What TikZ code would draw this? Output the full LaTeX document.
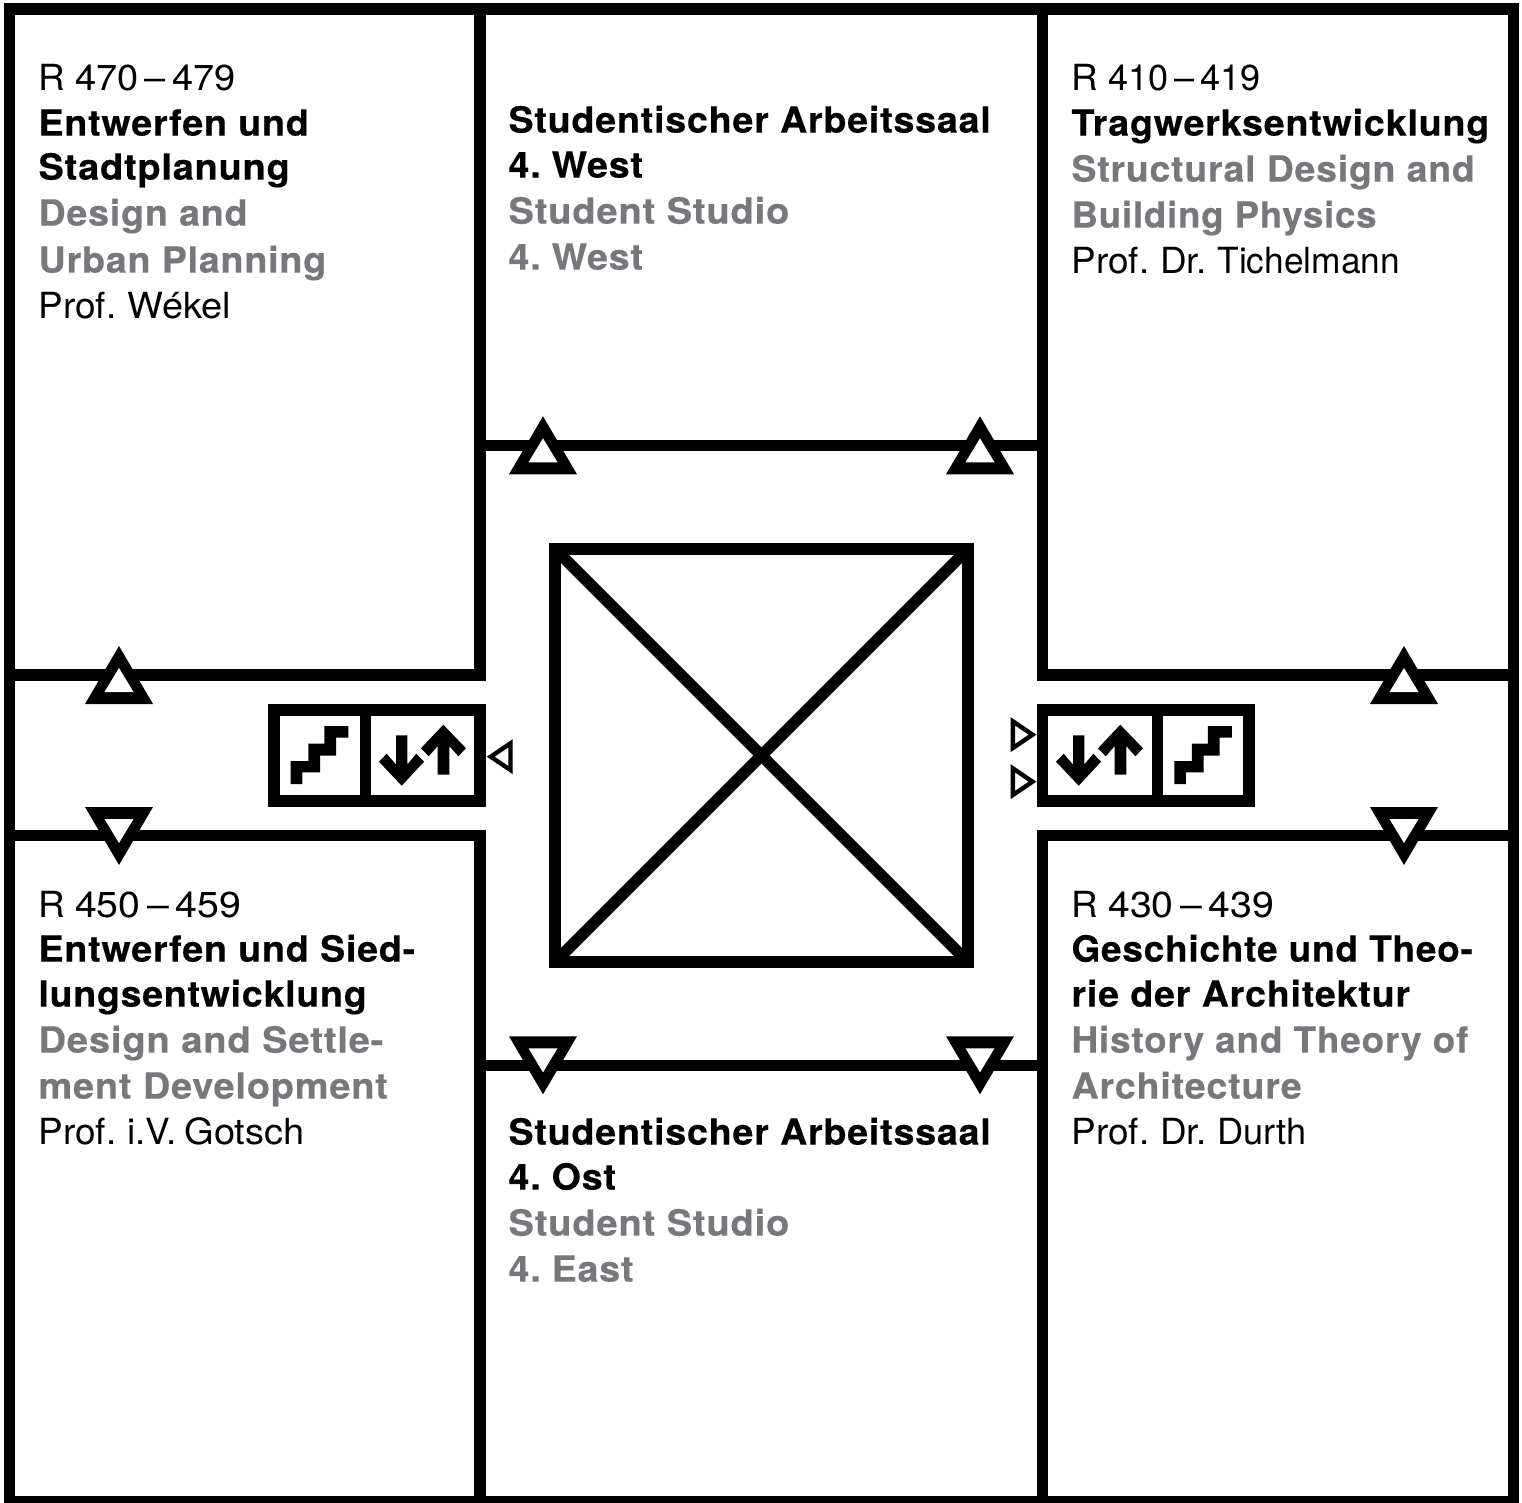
\documentclass[tikz,border=0pt]{standalone}
\usepackage{fontspec}
\setmainfont{TeX Gyre Heros}[WordSpace=0.72,FakeStretch=1.025,BoldFeatures={FakeStretch=1.045,LetterSpace=2.2,FakeBold=0.35,WordSpace=1.0}]
\definecolor{grayt}{HTML}{77787B}
\tikzset{
  wall/.style={line width=11.5pt,line cap=butt,line join=miter},
  small/.style={draw=black,fill=white,line width=4.4pt,line join=miter},
  lbl/.style={anchor=base west,inner sep=0pt,outer sep=0pt,font=\fontsize{36}{36}\selectfont},
  bld/.style={lbl,font=\fontsize{36}{36}\selectfont\bfseries},
  gry/.style={bld,text=grayt}
}
\newcommand{\sx}[2]{\scalebox{#1}[1]{#2}}
\newcommand{\rno}[2]{R\hspace{10pt}\sx{#1}{#2}}
\newcommand{\uptri}[2]{%
  \fill[black] (#1-34,#2+29) -- (#1,#2-29) -- (#1+34,#2+29) -- cycle;
  \fill[white] (#1-14.5,#2+17) -- (#1,#2-7) -- (#1+14.5,#2+17) -- cycle;}
\newcommand{\dntri}[2]{%
  \fill[black] (#1-34,#2-29) -- (#1,#2+29) -- (#1+34,#2-29) -- cycle;
  \fill[white] (#1-14.5,#2-17) -- (#1,#2+7) -- (#1+14.5,#2-17) -- cycle;}
\newcommand{\stairs}[1]{%
  \fill[black,shift={(#1,0)}] (290.7,784) -- (302.3,784) -- (302.3,772.3) -- (320,772.3) -- (320,755.7) -- (336,755.7) -- (336,737.7) -- (348.3,737.7) -- (348.3,726) -- (324.3,726) -- (324.3,743.7) -- (308.3,743.7) -- (308.3,761) -- (290.7,761) -- cycle;}
\newcommand{\arrows}[1]{%
  \fill[black,shift={(#1,0)}] (396,735.3) -- (407.3,735.3) -- (407.3,764.5) -- (416.3,753.7) -- (424,761.7) -- (401.7,785.7) -- (379,761.7) -- (386.7,753.7) -- (396,764.5) -- cycle;
  \fill[black,shift={(#1,0)}] (437.7,774.7) -- (449.3,774.7) -- (449.3,746) -- (458.3,756.3) -- (466,748.3) -- (443.3,724.7) -- (421,748.3) -- (428.7,756.3) -- (437.7,746) -- cycle;}
\begin{document}
\begin{tikzpicture}[x=1pt,y=-1pt]
\useasboundingbox (0,0) rectangle (1522,1502);
\fill[white] (0,0) rectangle (1522,1502);
% frame
\draw[wall] (9.7,9.2) rectangle (1513.3,1502);
% walls
\draw[wall] (480.2,9) -- (480.2,680);
\draw[wall] (10,674.8) -- (486,674.8);
\draw[wall] (1042.5,9) -- (1042.5,680);
\draw[wall] (1036.7,674.8) -- (1513,674.8);
\draw[wall] (10,835.7) -- (486,835.7);
\draw[wall] (480.2,830) -- (480.2,1502);
\draw[wall] (1036.7,835.7) -- (1513,835.7);
\draw[wall] (1042.5,830) -- (1042.5,1502);
\draw[wall] (480,445.5) -- (1042,445.5);
\draw[wall] (480,1065.5) -- (1042,1065.5);
% void
\draw[wall] (555,549) rectangle (968,962);
\draw[wall] (555,549) -- (968,962);
\draw[wall] (968,549) -- (555,962);
% core boxes
\draw[wall] (273.8,709.8) rectangle (480.2,800.8);
\draw[wall] (365.3,704) -- (365.3,806.5);
\draw[wall] (1042.5,709.8) rectangle (1249,800.8);
\draw[wall] (1157.3,704) -- (1157.3,806.5);
\stairs{0}\arrows{0}
\stairs{883.6}\arrows{677}
% doors
\uptri{543}{445.3}\uptri{980}{445.3}
\dntri{543}{1065.3}\dntri{980}{1065.3}
\uptri{119}{675}\dntri{119}{836}
\uptri{1404}{675}\dntri{1404}{836}
% small markers
\draw[small] (490.7,756.7) -- (510.5,743.3) -- (510.5,770) -- cycle;
\draw[small] (1032.5,734.7) -- (1012.8,721.3) -- (1012.8,748) -- cycle;
\draw[small] (1032.5,781.7) -- (1012.8,768.3) -- (1012.8,795) -- cycle;
% text
\begin{scope}[shift={(0.5,0.6)}]
\node[lbl] (a1) at (38,90) {\rno{1.03}{470\,–\,479}};
\node[bld] (a2) at (38,135) {Entwerfen und};
\node[bld] (a3) at (38,179) {\sx{1.008}{Stadtplanung}};
\node[gry] (a4) at (38,225) {Design and};
\node[gry] (a5) at (38,272) {Urban Planning};
\node[lbl] (a6) at (38,318) {Prof. \sx{1.03}{Wékel}};
\node[bld] (b1) at (508,132) {Studentischer Arbeitssaal};
\node[bld] (b2) at (508,177) {4.\hspace{-4pt} West};
\node[gry] (b3) at (508,223) {\sx{1.014}{Student Studio}};
\node[gry] (b4) at (508,269) {4.\hspace{-4pt} West};
\node[lbl] (c1) at (1071,90) {\rno{0.98}{410\,–\,419}};
\node[bld] (c2) at (1071,135) {Tragwerksentwicklung};
\node[gry] (c3) at (1071,181) {\sx{0.995}{Structural Design and}};
\node[gry] (c4) at (1071,227) {\sx{0.975}{Building Physics}};
\node[lbl] (c5) at (1071,273) {Prof. Dr. \sx{0.958}{Tichelmann}};
\node[lbl] (d1) at (38,917) {\rno{1.065}{450\,–\,459}};
\node[bld] (d2) at (38,961) {Entwerfen und Sied-};
\node[bld] (d3) at (38,1006) {\sx{0.995}{lungsentwicklung}};
\node[gry] (d4) at (38,1052) {\sx{1.015}{Design and Settle-}};
\node[gry] (d5) at (38,1098) {\sx{1.009}{ment Development}};
\node[lbl] (d6) at (38,1144) {Prof. i.V. \sx{1.03}{Gotsch}};
\node[bld] (e1) at (508,1144) {Studentischer Arbeitssaal};
\node[bld] (e2) at (508,1189) {4.\hspace{-4pt} Ost};
\node[gry] (e3) at (508,1235) {\sx{1.014}{Student Studio}};
\node[gry] (e4) at (508,1281) {4.\hspace{-4pt} East};
\node[lbl] (f1) at (1071,917) {\rno{1.065}{430\,–\,439}};
\node[bld] (f2) at (1071,961) {\sx{0.983}{Geschichte und Theo-}};
\node[bld] (f3) at (1071,1006) {rie der Architektur};
\node[gry] (f4) at (1071,1052) {\sx{0.983}{History and Theory of}};
\node[gry] (f5) at (1071,1098) {Architecture};
\node[lbl] (f6) at (1071,1144) {Prof. Dr. \sx{0.98}{Durth}};
\end{scope}
\end{tikzpicture}
\end{document}
